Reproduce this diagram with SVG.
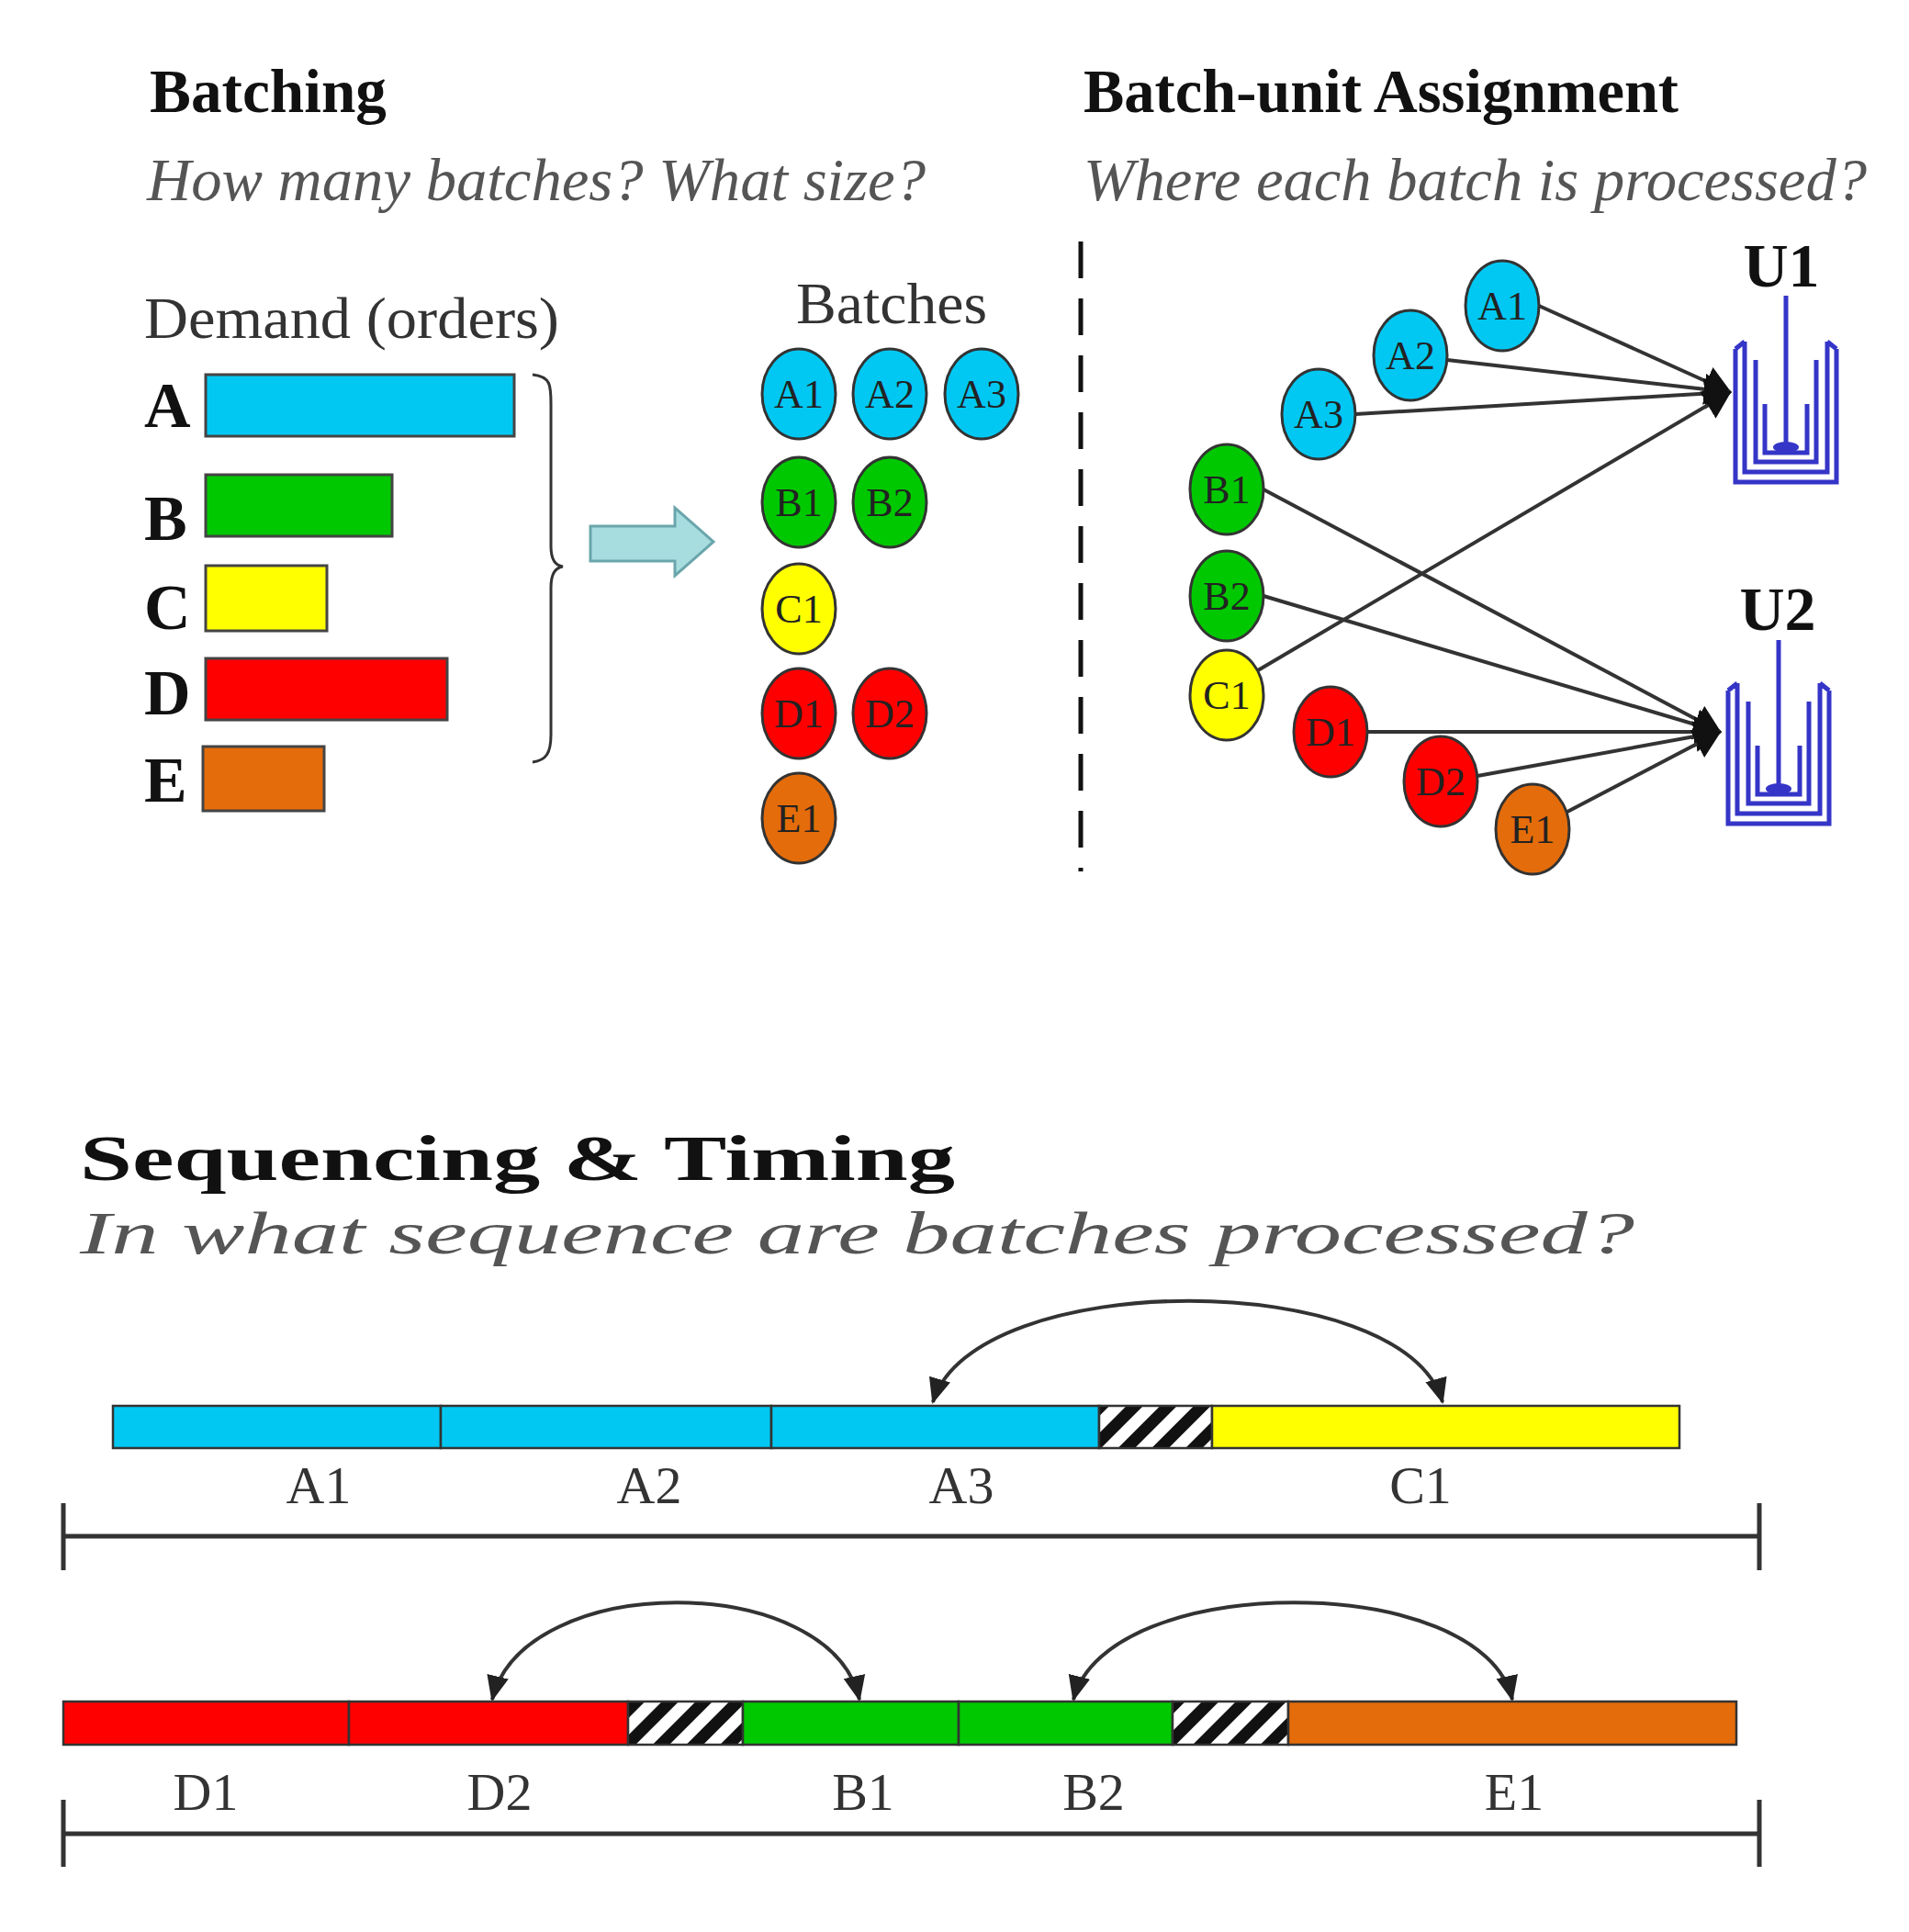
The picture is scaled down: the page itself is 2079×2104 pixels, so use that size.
<svg xmlns="http://www.w3.org/2000/svg" width="2079" height="2104" viewBox="0 0 2079 2104">
<style>
text{font-family:"Liberation Serif","Times New Roman",serif}
.t{font-weight:bold;font-size:68px;fill:#111}
.s{font-style:italic;font-size:66px;fill:#555}
.l{font-size:64px;fill:#333}
.big{font-weight:bold;font-size:70px;fill:#111}
.n{font-size:44px;fill:#222;text-anchor:middle}
.bar{stroke:#444;stroke-width:3}
.e{stroke:#333;stroke-width:3}
.c{stroke:#333;stroke-width:4;fill:none}
.v{stroke:#3535c8;stroke-width:5;fill:none}
.ax{stroke:#333;stroke-width:5;fill:none}
.seg{stroke:#333;stroke-width:2.5}
.lab{font-size:58px;fill:#333;text-anchor:middle}
</style>
<defs>
<marker id="ah2" markerWidth="28" markerHeight="28" refX="26" refY="14" orient="auto-start-reverse" markerUnits="userSpaceOnUse" viewBox="0 0 28 28"><path d="M0 2L28 14L0 26z" fill="#222"/></marker>
<marker id="ah3" markerWidth="30" markerHeight="34" refX="28" refY="17" orient="auto" markerUnits="userSpaceOnUse" viewBox="0 0 30 34"><path d="M0 0L30 17L0 34z" fill="#111"/></marker>
<pattern id="hatch" width="26" height="26" patternUnits="userSpaceOnUse" patternTransform="rotate(45)"><rect width="26" height="26" fill="#fff"/><rect width="13" height="26" fill="#111"/></pattern>
</defs>

<g id="titles">
<text class="t" x="163" y="122" textLength="258" lengthAdjust="spacingAndGlyphs">Batching</text>
<text class="s" x="160" y="218" textLength="848" lengthAdjust="spacingAndGlyphs">How many batches? What size?</text>
<text class="t" x="1180" y="122" textLength="648" lengthAdjust="spacingAndGlyphs">Batch-unit Assignment</text>
<text class="s" x="1180" y="218" textLength="853" lengthAdjust="spacingAndGlyphs">Where each batch is processed?</text>
<text class="l" x="157" y="368" textLength="452" lengthAdjust="spacingAndGlyphs">Demand (orders)</text>
<text class="l" x="971" y="352" text-anchor="middle" textLength="208" lengthAdjust="spacingAndGlyphs">Batches</text>
<text class="big" x="87" y="1285" textLength="953" lengthAdjust="spacingAndGlyphs">Sequencing &amp; Timing</text>
<text class="s" x="87" y="1365" textLength="1693" lengthAdjust="spacingAndGlyphs">In what sequence are batches processed?</text>
</g>

<g id="demand">
<text class="big" x="157" y="465" font-size="64">A</text>
<text class="big" x="157" y="588" font-size="64">B</text>
<text class="big" x="157" y="685" font-size="64">C</text>
<text class="big" x="157" y="778" font-size="64">D</text>
<text class="big" x="157" y="873" font-size="64">E</text>
<rect class="bar" x="224" y="408" width="336" height="67" fill="#00c8f2"/>
<rect class="bar" x="224" y="517" width="203" height="67" fill="#00c800"/>
<rect class="bar" x="224" y="616" width="132" height="71" fill="#ffff00"/>
<rect class="bar" x="224" y="717" width="263" height="67" fill="#ff0000"/>
<rect class="bar" x="221" y="813" width="132" height="70" fill="#e46c0a"/>
<path d="M580 408 C600 410 600 420 600 440 L600 595 C600 610 605 616 613 617 C605 618 600 624 600 640 L600 800 C600 820 595 828 580 830" fill="none" stroke="#333" stroke-width="3"/>
<path d="M643 573 L735 573 L735 553 L777 590 L735 627 L735 611 L643 611 Z" fill="#a8dde0" stroke="#6aa6ac" stroke-width="3"/>
</g>

<g id="batches">
<g><ellipse class="e" cx="870" cy="429" rx="40" ry="49" fill="#00c8f2"/><text class="n" x="870" y="444">A1</text></g>
<g><ellipse class="e" cx="969" cy="429" rx="40" ry="49" fill="#00c8f2"/><text class="n" x="969" y="444">A2</text></g>
<g><ellipse class="e" cx="1069" cy="429" rx="40" ry="49" fill="#00c8f2"/><text class="n" x="1069" y="444">A3</text></g>
<g><ellipse class="e" cx="870" cy="547" rx="40" ry="49" fill="#00c800"/><text class="n" x="870" y="562">B1</text></g>
<g><ellipse class="e" cx="969" cy="547" rx="40" ry="49" fill="#00c800"/><text class="n" x="969" y="562">B2</text></g>
<g><ellipse class="e" cx="870" cy="663" rx="40" ry="49" fill="#ffff00"/><text class="n" x="870" y="678">C1</text></g>
<g><ellipse class="e" cx="870" cy="777" rx="40" ry="49" fill="#ff0000"/><text class="n" x="870" y="792">D1</text></g>
<g><ellipse class="e" cx="969" cy="777" rx="40" ry="49" fill="#ff0000"/><text class="n" x="969" y="792">D2</text></g>
<g><ellipse class="e" cx="870" cy="891" rx="40" ry="49" fill="#e46c0a"/><text class="n" x="870" y="906">E1</text></g>
</g>

<line x1="1177" y1="263" x2="1177" y2="949" stroke="#111" stroke-width="5" stroke-dasharray="40 22"/>

<g id="connectors">
<line class="c" x1="1676" y1="333" x2="1884" y2="427" marker-end="url(#ah3)"/>
<line class="c" x1="1576" y1="392" x2="1884" y2="427" marker-end="url(#ah3)"/>
<line class="c" x1="1476" y1="451" x2="1884" y2="427" marker-end="url(#ah3)"/>
<line class="c" x1="1370" y1="730" x2="1884" y2="427" marker-end="url(#ah3)"/>
<line class="c" x1="1376" y1="533" x2="1873" y2="797" marker-end="url(#ah3)"/>
<line class="c" x1="1376" y1="649" x2="1873" y2="797" marker-end="url(#ah3)"/>
<line class="c" x1="1489" y1="797" x2="1873" y2="797" marker-end="url(#ah3)"/>
<line class="c" x1="1609" y1="845" x2="1873" y2="797" marker-end="url(#ah3)"/>
<line class="c" x1="1705" y1="885" x2="1873" y2="797" marker-end="url(#ah3)"/>
<path class="c" d="M1016 1527 C1060 1380 1530 1380 1571 1527" marker-start="url(#ah2)" marker-end="url(#ah2)"/>
<path class="c" d="M536 1851 C570 1710 905 1710 936 1851" marker-start="url(#ah2)" marker-end="url(#ah2)"/>
<path class="c" d="M1169 1851 C1205 1710 1615 1710 1647 1851" marker-start="url(#ah2)" marker-end="url(#ah2)"/>
</g>

<g id="assign">
<g><ellipse class="e" cx="1636" cy="333" rx="40" ry="49" fill="#00c8f2"/><text class="n" x="1636" y="348">A1</text></g>
<g><ellipse class="e" cx="1536" cy="387" rx="40" ry="49" fill="#00c8f2"/><text class="n" x="1536" y="402">A2</text></g>
<g><ellipse class="e" cx="1436" cy="451" rx="40" ry="49" fill="#00c8f2"/><text class="n" x="1436" y="466">A3</text></g>
<g><ellipse class="e" cx="1336" cy="533" rx="40" ry="49" fill="#00c800"/><text class="n" x="1336" y="548">B1</text></g>
<g><ellipse class="e" cx="1336" cy="649" rx="40" ry="49" fill="#00c800"/><text class="n" x="1336" y="664">B2</text></g>
<g><ellipse class="e" cx="1336" cy="757" rx="40" ry="49" fill="#ffff00"/><text class="n" x="1336" y="772">C1</text></g>
<g><ellipse class="e" cx="1449" cy="797" rx="40" ry="49" fill="#ff0000"/><text class="n" x="1449" y="812">D1</text></g>
<g><ellipse class="e" cx="1569" cy="851" rx="40" ry="49" fill="#ff0000"/><text class="n" x="1569" y="866">D2</text></g>
<g><ellipse class="e" cx="1669" cy="903" rx="40" ry="49" fill="#e46c0a"/><text class="n" x="1669" y="918">E1</text></g>
</g>

<g id="U1">
<text class="t" x="1940" y="312" text-anchor="middle" font-size="60">U1</text>
<path class="v" d="M1890 380 L1890 525 L2000 525 L2000 380 M1900 372 L1900 514 L1990 514 L1990 372 M1890 380 L1900 372 M2000 380 L1990 372 M1912 392 L1912 503 L1978 503 L1978 392 M1922 440 L1922 493 L1968 493 L1968 440"/>
<line class="v" x1="1945" y1="322" x2="1945" y2="485"/>
<ellipse cx="1945" cy="487" rx="14" ry="6" fill="#3535c8"/>
</g>
<g id="U2">
<text class="t" x="1936" y="686" text-anchor="middle" font-size="60">U2</text>
<path class="v" d="M1882 752 L1882 897 L1992 897 L1992 752 M1892 744 L1892 886 L1982 886 L1982 744 M1882 752 L1892 744 M1992 752 L1982 744 M1904 764 L1904 875 L1970 875 L1970 764 M1914 812 L1914 865 L1960 865 L1960 812"/>
<line class="v" x1="1937" y1="697" x2="1937" y2="857"/>
<ellipse cx="1937" cy="859" rx="14" ry="6" fill="#3535c8"/>
</g>

<g id="row1">
<rect class="seg" x="123" y="1531" width="357" height="46" fill="#00c8f2"/>
<rect class="seg" x="480" y="1531" width="360" height="46" fill="#00c8f2"/>
<rect class="seg" x="840" y="1531" width="357" height="46" fill="#00c8f2"/>
<rect class="seg" x="1197" y="1531" width="123" height="46" fill="url(#hatch)"/>
<rect class="seg" x="1320" y="1531" width="509" height="46" fill="#ffff00"/>
<text class="lab" x="347" y="1637">A1</text>
<text class="lab" x="707" y="1637">A2</text>
<text class="lab" x="1047" y="1637">A3</text>
<text class="lab" x="1547" y="1637">C1</text>
<path class="ax" d="M69 1637 L69 1710 M69 1673 L1916 1673 M1916 1637 L1916 1710"/>
</g>
<g id="row2">
<rect class="seg" x="69" y="1853" width="311" height="47" fill="#ff0000"/>
<rect class="seg" x="380" y="1853" width="304" height="47" fill="#ff0000"/>
<rect class="seg" x="684" y="1853" width="125" height="47" fill="url(#hatch)"/>
<rect class="seg" x="809" y="1853" width="235" height="47" fill="#00c800"/>
<rect class="seg" x="1044" y="1853" width="233" height="47" fill="#00c800"/>
<rect class="seg" x="1277" y="1853" width="126" height="47" fill="url(#hatch)"/>
<rect class="seg" x="1403" y="1853" width="488" height="47" fill="#e46c0a"/>
<text class="lab" x="224" y="1971">D1</text>
<text class="lab" x="544" y="1971">D2</text>
<text class="lab" x="940" y="1971">B1</text>
<text class="lab" x="1191" y="1971">B2</text>
<text class="lab" x="1649" y="1971">E1</text>
<path class="ax" d="M69 1960 L69 2033 M69 1997 L1916 1997 M1916 1960 L1916 2033"/>
</g>
</svg>
